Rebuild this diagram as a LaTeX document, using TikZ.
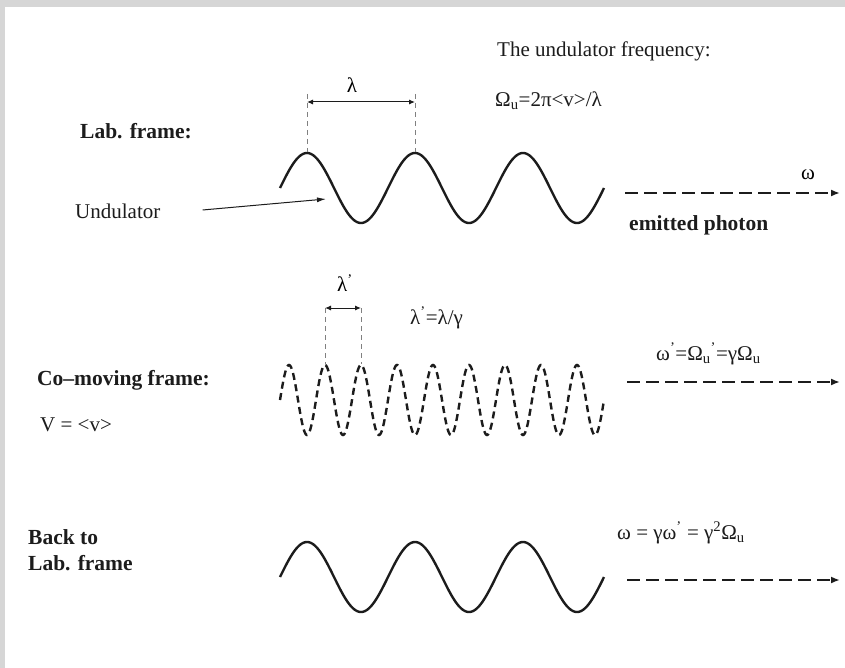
\documentclass[tikz,border=0pt]{standalone}
\usepackage{fontspec}
\setmainfont{Liberation Serif}
\usetikzlibrary{arrows.meta}
\usepackage{xcolor}
\definecolor{framegrey}{RGB}{214,214,214}
\definecolor{inkdark}{RGB}{28,28,28}

\begin{document}
\begin{tikzpicture}[x=1pt, y=-1pt,
    font=\fontsize{21}{25}\selectfont,
    lbl/.style={anchor=west, inner sep=0pt, text=inkdark},
    headlbl/.style={lbl, font=\fontsize{21.5}{25}\selectfont\bfseries},
    wave/.style={inkdark, line width=2.4pt},
    dwave/.style={wave, dash pattern=on 7pt off 4.5pt},
    photon/.style={inkdark, line width=2.2pt, dash pattern=on 13pt off 6pt, -{Latex[length=9pt,width=7pt]}},
    guide/.style={gray, line width=0.9pt, dash pattern=on 5pt off 4pt},
    span/.style={inkdark, line width=1pt, {Latex[length=6pt,width=5pt]}-{Latex[length=6pt,width=5pt]}},
    pointer/.style={inkdark, line width=1pt, -{Latex[length=9pt,width=5pt]}}
]

% frame
\fill[framegrey] (0,0) rectangle (845,668);
\fill[white] (5,7) rectangle (845,668);
\useasboundingbox (0,0) rectangle (845,668);

% ============ ROW 1: lab frame ============
\node[lbl] (freqtitle) at (497,51)  {The undulator frequency:};
\node[lbl] (freqdef)   at (495,101) {Ω\textsubscript{u}=2π<v>/λ};
\node[headlbl] (labhead) at (80,131) {Lab. frame:};
\node[lbl] (undlbl)    at (75,211)  {Undulator};

\draw[wave] plot[domain=280:604, samples=241] (\x, {188-35*sin((\x-280)*10/3)});

% period marks
\coordinate (peakA) at (307,152);
\coordinate (peakB) at (415,152);
\coordinate (topA)  at (307,94);
\coordinate (topB)  at (415,94);
\draw[guide] (topA) -- (peakA);
\draw[guide] (topB) -- (peakB);
\draw[span] (307,102) -- (415,102);
\node (lam) at (352,85) {λ};

% pointer to undulator
\coordinate (undtip) at (326,199);
\draw[pointer] ([xshift=42pt,yshift=1pt]undlbl.east) -- (undtip);

% photon
\coordinate (phAs) at (625,193);
\coordinate (phAe) at (840,193);
\draw[photon] (phAs) -- (phAe);
\node (omA) at (808,175) {ω};
\node[headlbl] (emit) at (629,225) {emitted photon};

% ============ ROW 2: co-moving frame ============
\node[headlbl] (cohead) at (37,380) {Co–moving frame:};
\node[lbl] (vel)        at (40,425) {V = <v>};

\draw[dwave] plot[domain=280:604, samples=541] (\x, {400-35*sin((\x-280)*10)});

\coordinate (peakC) at (325,364);
\coordinate (peakD) at (361,364);
\coordinate (topC)  at (325,308);
\coordinate (topD)  at (361,308);
\draw[guide] (topC) -- (peakC);
\draw[guide] (topD) -- (peakD);
\draw[span] (topC) -- (topD);
\node (lamp) at (345,283) {λ\textsuperscript{'}};
\node[lbl] (lamrel) at (410,318) {λ\textsuperscript{'}=λ/γ};

\coordinate (phBs) at (627,382);
\coordinate (phBe) at (840,382);
\draw[photon] (phBs) -- (phBe);
\node[lbl] (omB) at (656,354) {ω\textsuperscript{'}=Ω\textsubscript{u}\textsuperscript{'}=γΩ\textsubscript{u}};

% ============ ROW 3: back to lab frame ============
\node[headlbl] (backA) at (28,537) {Back to};
\node[headlbl] (backB) at (28,563) {Lab. frame};

\draw[wave] plot[domain=280:604, samples=241] (\x, {577-35*sin((\x-280)*10/3)});

\coordinate (phCs) at (627,580);
\coordinate (phCe) at (840,580);
\draw[photon] (phCs) -- (phCe);
\node[lbl] (omC) at (617,533) {ω = γω\textsuperscript{'} = γ\textsuperscript{2}Ω\textsubscript{u}};

\end{tikzpicture}
\end{document}
